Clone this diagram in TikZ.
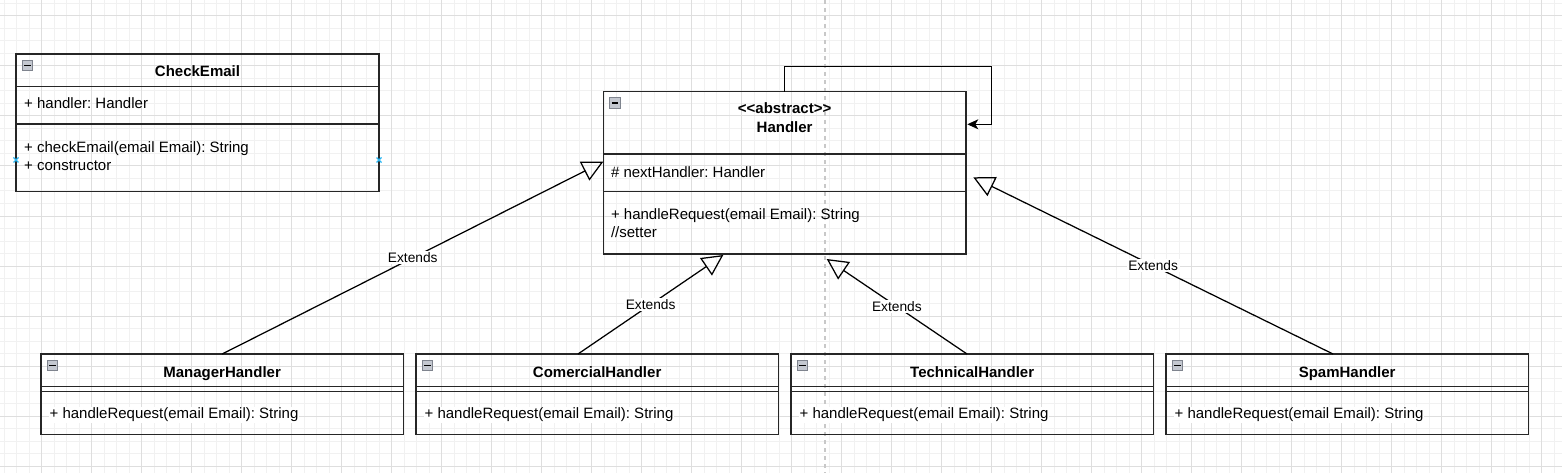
\documentclass[tikz,border=0pt]{standalone}
\usepackage{fontspec}
\setmainfont{Liberation Sans}
\usetikzlibrary{arrows.meta,calc}
\definecolor{gridminor}{HTML}{F1F1F1}
\definecolor{gridmajor}{HTML}{DEDEDE}
\definecolor{pagebrk}{HTML}{C8C8C8}
\definecolor{iconfill}{HTML}{C4C8D0}
\definecolor{iconline}{HTML}{7F848E}
\definecolor{hint}{HTML}{29B6F2}
\definecolor{boxline}{HTML}{262626}
\frenchspacing
\begin{document}
\begin{tikzpicture}[x=1pt,y=-1pt,
  cls/.style={draw=boxline,line width=1.25pt,rectangle,inner sep=0pt,outer sep=0pt,minimum width=362.5pt},
  sepline/.style={draw=boxline,line width=1.25pt},
  icon/.style={draw=iconline,fill=iconfill,line width=0.9pt,rectangle,inner sep=0pt,minimum size=10.5pt,
    path picture={\draw[black,line width=1.5pt] ($(path picture bounding box.west)+(2.2,0)$) -- ($(path picture bounding box.east)+(-2.2,0)$);}},
  txt/.style={anchor=base west,inner sep=0pt,font=\fontsize{15}{18}\selectfont},
  mtxt/.style={txt,fill=white,inner sep=1pt},
  ttl/.style={anchor=base,inner sep=0pt,font=\fontsize{15}{18}\selectfont\bfseries},
  ext/.style={draw=black,line width=1.25pt,-{Triangle[open,length=21pt,width=21pt]}},
  selfloop/.style={draw=black,line width=1.25pt,-{Stealth[length=11pt,width=10pt,inset=3pt]}},
  lbl/.style={fill=white,inner sep=1.5pt,font=\fontsize{13.75}{16}\selectfont},
  hintmark/.style={draw=hint,line width=1.2pt}
]
\useasboundingbox (0,0) rectangle (1562,473);
\begin{scope}
\clip (0,0) rectangle (1562,473);
% grid
\foreach \i in {0,...,124} \draw[gridminor,line width=1pt] ({4.2+12.5*\i},0) -- ({4.2+12.5*\i},473);
\foreach \j in {0,...,37} \draw[gridminor,line width=1pt] (0,{3.5+12.5*\j}) -- (1562,{3.5+12.5*\j});
\foreach \i in {0,...,30} \draw[gridmajor,line width=1pt] ({41.7+50*\i},0) -- ({41.7+50*\i},473);
\foreach \j in {0,...,9} \draw[gridmajor,line width=1pt] (0,{16+50*\j}) -- (1562,{16+50*\j});
% page break
\draw[pagebrk,line width=1.25pt,dash pattern=on 4pt off 4pt] (825,0) -- (825,473);
\end{scope}

% ---------- CheckEmail ----------
\node[cls,minimum width=363pt,minimum height=137.7pt] (chk) at (197.5,122.85) {};
\draw[sepline] ($(chk.north west)+(0,32.7)$) -- ($(chk.north east)+(0,32.7)$);
\draw[sepline] ($(chk.north west)+(0,70)$) -- ($(chk.north east)+(0,70)$);
\node[icon] (chkicon) at ($(chk.north west)+(11.5,11.5)$) {};
\node[ttl] (chkt) at (197.5,77) {CheckEmail};
\node[txt] (chka) at (24,108.4) {+ handler: Handler};
\node[txt] (chkm1) at (24,152.1) {+ checkEmail(email Email): String};
\node[txt] (chkm2) at (24,170.4) {+ constructor};
\draw[hintmark] (13.5,157.5) -- (18.5,162.5) (13.5,162.5) -- (18.5,157.5);
\draw[hintmark] (376.5,157.5) -- (381.5,162.5) (376.5,162.5) -- (381.5,157.5);

% ---------- Handler ----------
\node[cls,minimum width=362.7pt,minimum height=162.3pt] (hd) at (784.65,172.85) {};
\draw[sepline] ($(hd.north west)+(0,62.3)$) -- ($(hd.north east)+(0,62.3)$);
\draw[sepline] ($(hd.north west)+(0,99.6)$) -- ($(hd.north east)+(0,99.6)$);
\node[icon] (hdicon) at ($(hd.north west)+(11.5,11.5)$) {};
\node[ttl] (hdt1) at (784.65,113.7) {<{}<abstract>{}>};
\node[ttl] (hdt2) at (784.65,132.1) {Handler};
\node[txt] (hda) at (610.8,177.1) {\# nextHandler: Handler};
\node[txt] (hdm1) at (610.8,219.7) {+ handleRequest(email Email): String};
\node[txt] (hdm2) at (610.8,237.1) {//setter};

% ---------- subclasses ----------
\foreach \nm/\cx/\title in {mgr/222.15/ManagerHandler, com/597.15/ComercialHandler, tec/972.15/TechnicalHandler, spm/1347.15/SpamHandler}{
  \node[cls,minimum width=362.3pt,minimum height=80.3pt] (\nm) at (\cx,394.15) {};
  \draw[sepline] ($(\nm.north west)+(0,32.7)$) -- ($(\nm.north east)+(0,32.7)$);
  \draw[sepline] ($(\nm.north west)+(0,37.7)$) -- ($(\nm.north east)+(0,37.7)$);
  \node[icon] (\nm icon) at ($(\nm.north west)+(11.5,11.4)$) {};
  \node[ttl] (\nm t) at (\cx,377.7) {\title};
  \node[mtxt] (\nm m) at ($(\nm.north west)+(7.4,64.7)$) {+ handleRequest(email Email): String};
}

% ---------- self association ----------
\coordinate (lp1) at (784.65,66.7);
\coordinate (lp2) at (991.3,66.7);
\coordinate (lp3) at (991.3,124.3);
\coordinate (lpend) at (967.3,124.3);
\draw[selfloop] (hd.north) -- (lp1) -- (lp2) -- (lp3) -- (lpend);

% ---------- generalizations ----------
\coordinate (t1) at (603.3,161.7);
\coordinate (s2) at ($(com.north)+(-19.15,0)$);
\coordinate (t2) at (723.3,255);
\coordinate (s3) at ($(tec.north)+(-5.15,0)$);
\coordinate (t3) at (826.7,259);
\coordinate (s4) at ($(spm.north)+(-14.15,0)$);
\coordinate (t4) at (973.3,177.3);
\draw[ext] (mgr.north) -- node[lbl] (e1) {Extends} (t1);
\draw[ext] (s2) -- node[lbl] (e2) {Extends} (t2);
\draw[ext] (s3) -- node[lbl] (e3) {Extends} (t3);
\draw[ext] (s4) -- node[lbl] (e4) {Extends} (t4);
\end{tikzpicture}
\end{document}
